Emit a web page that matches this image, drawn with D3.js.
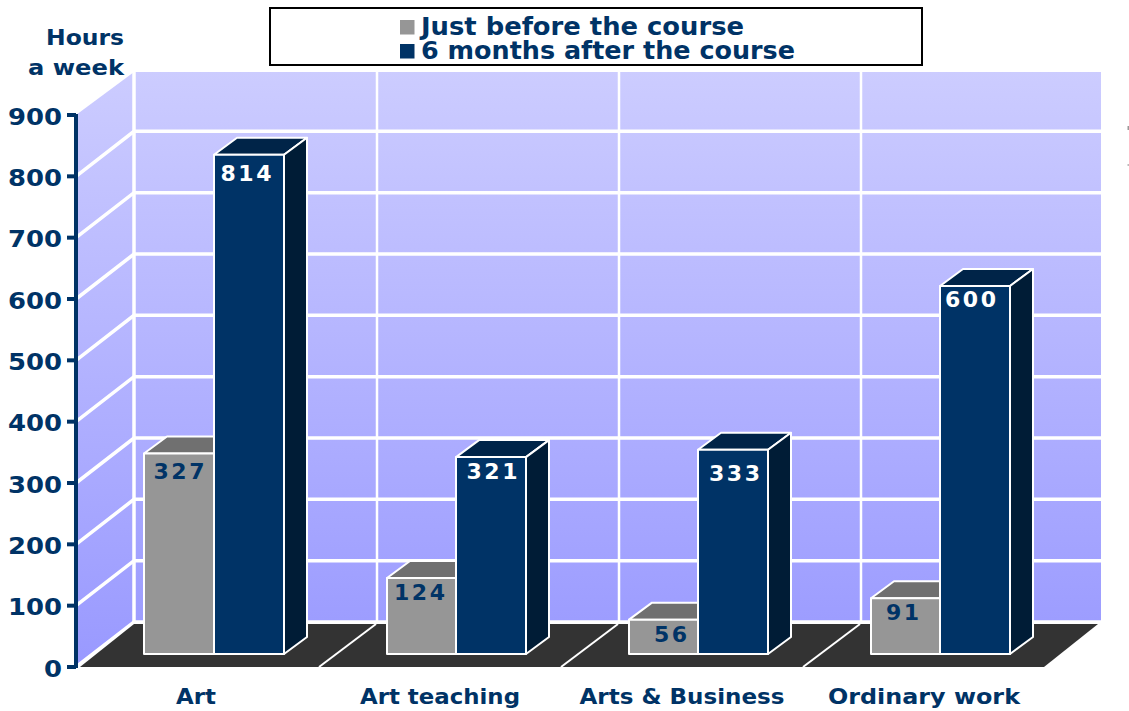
<!DOCTYPE html>
<html><head><meta charset="utf-8">
<script src="https://cdn.jsdelivr.net/npm/d3@7"></script>
<style>html,body{margin:0;padding:0;background:#fff}svg{display:block}text{font-family:"DejaVu Sans",Verdana,sans-serif;font-weight:bold;fill:#003366}</style>
</head><body><svg id="c" width="1129" height="711"></svg>
<script>
const categories=["Art","Art teaching","Arts & Business","Ordinary work"];
const seriesNames=["Just before the course","6 months after the course"];
const before=[327,124,56,91];
const after=[814,321,333,600];
const yTicks=[0,100,200,300,400,500,600,700,800,900];
const colors={front:["#969696","#003366"],top:["#707070","#002448"],side:["#555555","#001c36"]};

// layout constants for text placement (px)
const labelDx=[[0,-1.5,7.5,-2.5],[-3,1,1.5,-4.5]];
const labelDy=[[26,22,22,22],[26,22,31,21]];
const labelX=[196,440,682,924];
const labelW=[40,160,205,192];

const svg=d3.select("#c");
const defs=svg.append("defs");
const g=defs.append("linearGradient").attr("id","wall").attr("gradientUnits","userSpaceOnUse")
  .attr("x1",0).attr("x2",0).attr("y1",72).attr("y2",667);
g.append("stop").attr("offset",0).attr("stop-color","#ccccff");
g.append("stop").attr("offset",1).attr("stop-color","#9999ff");

const y=d3.scaleLinear().domain([0,900]).range([667,115]);
const x=d3.scaleBand().domain(categories).range([76,1044]);
const depth={dx:58,dy:-45};
const barDepth={dx:23,dy:-17};
const barBaseShift=-13, barInsetX=68, barW=70;
const line=d3.line();
const poly=p=>line(p)+"Z";
function stretched(sel,w){return sel.attr("textLength",w).attr("lengthAdjust","spacingAndGlyphs");}

const backL=76+depth.dx, backR=1101, backBottom=y(0)+depth.dy, backTop=72;
svg.append("path").attr("d",poly([[76,y(900)],[backL,backTop],[backL,backBottom],[76,y(0)]])).attr("fill","url(#wall)");
svg.append("rect").attr("x",backL).attr("y",backTop).attr("width",backR-backL).attr("height",backBottom-backTop).attr("fill","url(#wall)");
yTicks.slice(0,-1).forEach(t=>{
  svg.append("path").attr("d",line([[76,y(t)],[backL,y(t)+depth.dy],[backR,y(t)+depth.dy]])).attr("fill","none").attr("stroke","#fff").attr("stroke-width",3.5);
});
categories.forEach((c,i)=>{
  const bx=x(c)+depth.dx+(i?1:0);
  svg.append("line").attr("x1",bx).attr("x2",bx).attr("y1",backTop).attr("y2",backBottom).attr("stroke","#fff").attr("stroke-width",i?2.5:3.5);
});
// floor
svg.append("path").attr("d",poly([[80,y(0)],[backL,624],[1098,624],[x.range()[1],y(0)]])).attr("fill","#333333");
categories.slice(1).forEach(c=>{
  svg.append("line").attr("x1",x(c)+1).attr("y1",y(0)).attr("x2",x(c)+depth.dx).attr("y2",624).attr("stroke","#fff").attr("stroke-width",2);
});

function bar(cat,i,si,v){
  const left=x(cat)+barInsetX+si*barW+((si===0&&i>0)?1:0);
  const x1=x(cat)+barInsetX+(si+1)*barW;
  const yb=y(0)+barBaseShift, yt=y(v)+barBaseShift;
  const {dx,dy}=barDepth;
  const G=svg.append("g").attr("stroke","#fff").attr("stroke-width",2).attr("stroke-linejoin","round");
  G.append("path").attr("d",poly([[left,yt],[left+dx,yt+dy],[x1+dx,yt+dy],[x1,yt]])).attr("fill",colors.top[si]);
  G.append("path").attr("d",poly([[x1,yt],[x1+dx,yt+dy],[x1+dx,yb+dy],[x1,yb]])).attr("fill",colors.side[si]);
  G.append("rect").attr("x",left).attr("y",yt).attr("width",x1-left).attr("height",yb-yt).attr("fill",colors.front[si]);
  const t=svg.append("text").attr("x",(x(cat)+barInsetX+si*barW)+barW/2+labelDx[si][i]).attr("y",yt+labelDy[si][i]).attr("text-anchor","middle")
    .style("font-size","22px").style("fill",si?"#fff":"#003366").text(v);
  t.attr("textLength",String(v).length===3?51:33).attr("lengthAdjust","spacing");
}
categories.forEach((c,i)=>bar(c,i,0,before[i]));
categories.forEach((c,i)=>bar(c,i,1,after[i]));

// y axis
svg.append("line").attr("x1",76).attr("x2",76).attr("y1",y(900)-1).attr("y2",y(0)+1).attr("stroke","#003366").attr("stroke-width",4);
yTicks.forEach(t=>{
  svg.append("line").attr("x1",67).attr("x2",76).attr("y1",y(t)).attr("y2",y(t)).attr("stroke","#003366").attr("stroke-width",4);
  const s=svg.append("text").attr("x",62).attr("y",y(t)+9.5).attr("text-anchor","end").style("font-size","23px").text(t);
  stretched(s,t===0?18:54);
});
// x labels
categories.forEach((c,i)=>{
  stretched(svg.append("text").attr("x",labelX[i]).attr("y",704).attr("text-anchor","middle").style("font-size","22px").text(c),labelW[i]);
});
// axis title
stretched(svg.append("text").attr("x",124).attr("y",45).attr("text-anchor","end").style("font-size","22px").text("Hours"),78);
stretched(svg.append("text").attr("x",124).attr("y",75).attr("text-anchor","end").style("font-size","22px").text("a week"),96);
// legend
svg.append("rect").attr("x",270).attr("y",8).attr("width",652).attr("height",57).attr("fill","#fff").attr("stroke","#000").attr("stroke-width",2);
const legendW=[323,374];
seriesNames.forEach((s,i)=>{
  const ly=[35,59][i];
  svg.append("rect").attr("x",400).attr("y",ly-15).attr("width",14.5).attr("height",14.5).attr("fill",colors.front[i]);
  stretched(svg.append("text").attr("x",421).attr("y",ly).style("font-size","24px").text(s),legendW[i]);
});
// clipped specks at the right edge
[[126,4,"#999"],[164,2,"#bbb"]].forEach(d=>svg.append("rect").attr("x",1127.5).attr("y",d[0]).attr("width",1.5).attr("height",d[1]).attr("fill",d[2]));
</script></body></html>
